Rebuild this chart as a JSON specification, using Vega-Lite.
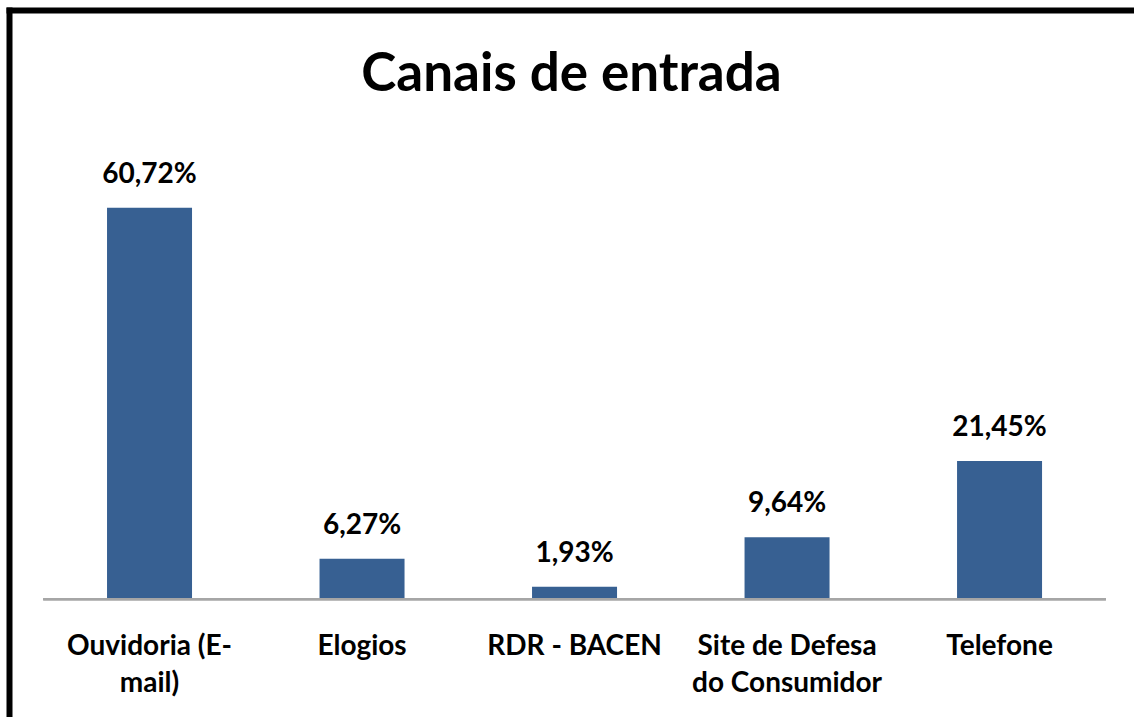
{
  "$schema": "https://vega.github.io/schema/vega-lite/v6.json",
  "autosize": "none",
  "width": 1125,
  "height": 707,
  "padding": {"left": 9, "top": 10, "right": 0, "bottom": 0},
  "background": "white",
  "title": {
    "text": "Canais de entrada",
    "font": "Lato",
    "fontSize": 53,
    "fontWeight": "bold",
    "color": "black",
    "anchor": "middle",
    "frame": "group",
    "baseline": "alphabetic",
    "offset": -134
  },
  "config": {
    "view": {"stroke": null},
    "locale": {"number": {"decimal": ",", "thousands": ".", "grouping": [3], "currency": ["R$", ""]}}
  },
  "data": {
    "values": [
      {"canal": "Ouvidoria (E-mail)", "pct": 0.6072},
      {"canal": "Elogios", "pct": 0.0627},
      {"canal": "RDR - BACEN", "pct": 0.0193},
      {"canal": "Site de Defesa do Consumidor", "pct": 0.0964},
      {"canal": "Telefone", "pct": 0.2145}
    ]
  },
  "resolve": {"axis": {"x": "independent"}},
  "layer": [
    {
      "mark": {"type": "bar", "color": "#376092"},
      "encoding": {
        "x": {
          "field": "canal", "type": "nominal", "sort": null,
          "scale": {"paddingInner": 0.6, "paddingOuter": 0.447, "align": 0.516},
          "axis": {
            "orient": "bottom", "title": null, "offset": -118,
            "domain": false, "ticks": false, "labelAngle": 0,
            "labelFont": "Lato", "labelFontSize": 28, "labelFontWeight": "bold",
            "labelColor": "black", "labelPadding": 33, "labelLineHeight": 37,
            "labelBaseline": "top", "labelLimit": 0,
            "labelExpr": "datum.value == 'Ouvidoria (E-mail)' ? ['Ouvidoria (E-', 'mail)'] : datum.value == 'Site de Defesa do Consumidor' ? ['Site de Defesa', 'do Consumidor'] : datum.value"
          }
        },
        "y": {
          "field": "pct", "type": "quantitative",
          "scale": {"domain": [-0.1825, 0.9138], "nice": false, "zero": false},
          "axis": {
            "title": null, "labels": false, "ticks": false, "grid": false,
            "domain": true, "domainColor": "black", "domainWidth": 6, "domainCap": "square"
          }
        },
        "y2": {"datum": 0}
      }
    },
    {
      "mark": {"type": "text", "font": "Lato", "fontSize": 28, "fontWeight": "bold", "color": "black", "baseline": "alphabetic", "dy": -25},
      "encoding": {
        "x": {
          "field": "canal", "type": "nominal", "sort": null,
          "axis": {
            "orient": "top", "title": null, "labels": false, "ticks": false,
            "domain": true, "domainColor": "black", "domainWidth": 6, "domainCap": "square"
          }
        },
        "y": {"field": "pct", "type": "quantitative"},
        "text": {"field": "pct", "type": "quantitative", "format": ".2%"}
      }
    },
    {
      "mark": {"type": "rule", "color": "#a6a6a6", "strokeWidth": 2},
      "encoding": {
        "x": {"datum": "Ouvidoria (E-mail)", "bandPosition": -0.75},
        "x2": {"datum": "Telefone", "bandPosition": 1.75},
        "y": {"datum": 0}
      }
    }
  ]
}
